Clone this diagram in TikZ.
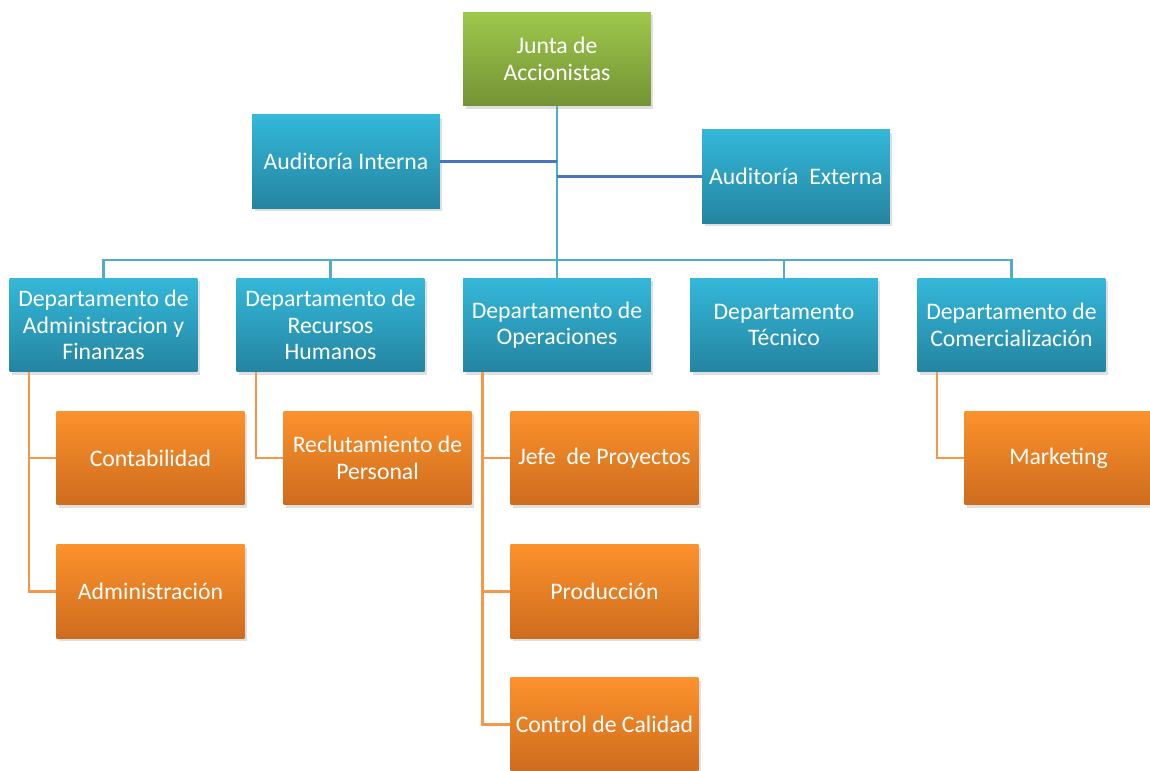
\documentclass[tikz,border=0pt]{standalone}
\usepackage{fontspec}
\setmainfont{Carlito}
\usepackage{tikz}
\usetikzlibrary{positioning, shadows, calc}
\usepackage{xcolor}
\definecolor{cGreenTop}{RGB}{158,200,76}
\definecolor{cGreenBot}{RGB}{116,146,52}
\definecolor{cBlueTop}{RGB}{52,184,218}
\definecolor{cBlueBot}{RGB}{36,132,160}
\definecolor{cOrangeTop}{RGB}{252,146,44}
\definecolor{cOrangeBot}{RGB}{206,108,30}
\definecolor{cTeal}{RGB}{78,174,200}
\definecolor{cAudit}{RGB}{72,118,190}
\definecolor{cOrangeLine}{RGB}{247,150,70}
\tikzset{
  basebox/.style={rectangle, draw=none, align=center, text=white,
                  font=\fontsize{13.5}{15}\selectfont,
                  minimum width=3.76cm, minimum height=1.88cm, inner sep=1pt,
                  drop shadow={opacity=0.25, shadow xshift=0.05cm,
                               shadow yshift=-0.06cm}},
  headnode/.style={basebox, top color=cGreenTop, bottom color=cGreenBot},
  deptnode/.style={basebox, top color=cBlueTop, bottom color=cBlueBot},
  subnode/.style={basebox, top color=cOrangeTop, bottom color=cOrangeBot},
  treeline/.style={line width=1.6pt, color=cTeal},
  auditline/.style={line width=1.4pt, color=cAudit},
  orangeline/.style={line width=1.4pt, color=cOrangeLine}
}

\begin{document}
\begin{tikzpicture}[x=0.02cm, y=-0.02cm]
  \useasboundingbox (0,0) rectangle (1150,771);

  % cabeza y auditorias
  \node[headnode] (junta) at (557,59) {Junta de\\Accionistas};
  \node[deptnode] (audint) at (346,161.5) {Auditoría Interna};
  \node[deptnode] (audext) at (796,176.5) {Auditoría~ Externa};

  % departamentos
  \node[deptnode] (dadm) at (103.5,325) {Departamento de\\Administracion y\\Finanzas};
  \node[deptnode] (drh)  at (330.5,325) {Departamento de\\Recursos\\Humanos};
  \node[deptnode] (dop)  at (557,325)   {Departamento de\\Operaciones};
  \node[deptnode] (dtec) at (784,325)   {Departamento\\Técnico};
  \node[deptnode] (dcom) at (1011.5,325) {Departamento de\\Comercialización};

  % areas
  \node[subnode] (cont)     at (150.5,458)   {Contabilidad};
  \node[subnode] (admin)    at (150.5,591.5) {Administración};
  \node[subnode] (recl)     at (377.5,458)   {Reclutamiento de\\Personal};
  \node[subnode] (jefe)     at (604.5,458)   {Jefe~ de Proyectos};
  \node[subnode] (prod)     at (604.5,591.5) {Producción};
  \node[subnode] (calidad)  at (604.5,724.5) {Control de Calidad};
  \node[subnode] (mkt)      at (1058.5,458)  {Marketing};

  % lineas principales
  \coordinate (bus) at (junta.south |- 0,260);
  \draw[treeline] (junta.south) -- (bus);
  \draw[auditline] (audint.east) -- (audint.east -| junta.south);
  \draw[auditline] (audext.west -| junta.south) -- (audext.west);
  \draw[treeline] (dadm.north) |- (bus) -| (dcom.north);
  \foreach \d in {drh, dop, dtec}
    \draw[treeline] (\d.north) -- (\d.north |- bus);

  % lineas naranjas
  \foreach \d/\first/\last in {dadm/cont/admin, drh/recl/recl, dop/jefe/calidad, dcom/mkt/mkt} {
    \coordinate (\d-l) at ([xshift=0.4cm]\d.south west);
    \draw[orangeline] (\d-l) |- (\last.west);
    \draw[orangeline] (\d-l |- \first.west) -- (\first.west);
  }
  \draw[orangeline] (dop-l |- prod.west) -- (prod.west);
\end{tikzpicture}
\end{document}
